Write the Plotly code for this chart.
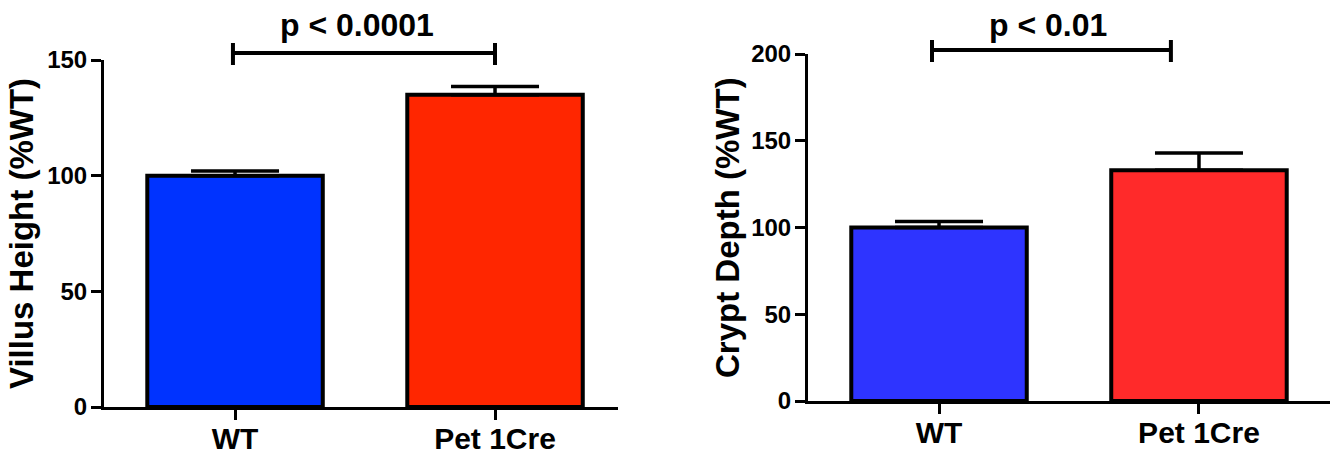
import plotly.graph_objects as go

# Data
categories = ["WT", "Pet 1Cre"]

villus_mean = [100, 135]
villus_sem = [2, 3.5]

crypt_mean = [100, 133]
crypt_sem = [3.5, 10]

villus_colors = ["#0033FF", "#FF2600"]
crypt_colors = ["#2E34FF", "#FF2A2A"]

villus_ticks = [0, 50, 100, 150]
crypt_ticks = [0, 50, 100, 150, 200]

villus_label = "p < 0.0001"
crypt_label = "p < 0.01"

FONT = "Liberation Sans, Arial, sans-serif"
W, H = 1330, 455

fig = go.Figure()


def add_panel(means, sems, colors, xa, ya):
    fig.add_trace(go.Bar(
        x=categories, y=means,
        marker=dict(color=colors, line=dict(color="black", width=4)),
        width=0.675,
        error_y=dict(type="data", symmetric=False, array=sems,
                     arrayminus=[0] * len(sems),
                     color="black", thickness=3.5, width=44),
        xaxis=xa, yaxis=ya, showlegend=False,
    ))


add_panel(villus_mean, villus_sem, villus_colors, "x", "y")
add_panel(crypt_mean, crypt_sem, crypt_colors, "x2", "y2")

xcommon = dict(
    type="category", showline=True, linecolor="black", linewidth=3,
    ticks="outside", ticklen=10, tickwidth=3, tickcolor="black",
    showgrid=False, zeroline=False, ticklabelstandoff=-7,
    tickfont=dict(family=FONT, size=30, color="black", weight="bold"),
)
ycommon = dict(
    showline=True, linecolor="black", linewidth=3,
    ticks="outside", ticklen=10, tickwidth=3, tickcolor="black",
    showgrid=False, zeroline=False, ticklabelstandoff=-1,
    tickfont=dict(family=FONT, size=24, color="black", weight="bold"),
)

fig.update_layout(
    width=W, height=H,
    margin=dict(l=0, r=0, t=0, b=0, autoexpand=False),
    paper_bgcolor="white", plot_bgcolor="white",
    xaxis=dict(xcommon, domain=[104 / W, 618 / W], range=[-0.504, 1.473],
               anchor="y", automargin=False),
    yaxis=dict(ycommon, domain=[(H - 407) / H, (H - 60) / H], range=[0, 150],
               tickvals=villus_ticks, anchor="x", automargin=False),
    xaxis2=dict(xcommon, domain=[808 / W, 1.0], range=[-0.504, 1.504],
                anchor="y2", automargin=False),
    yaxis2=dict(ycommon, domain=[(H - 401) / H, (H - 54) / H], range=[0, 200],
                tickvals=crypt_ticks, anchor="x2", automargin=False),
)


def bracket(xref, x0, x1, y_px, cap_top_px, cap_bot_px, label, label_x):
    """Significance bracket: x in data units, vertical positions in pixels from top."""
    line = dict(color="black", width=4)
    py = lambda p: (H - p) / H
    fig.add_shape(type="line", xref=xref, yref="paper", x0=x0, x1=x1,
                  y0=py(y_px), y1=py(y_px), line=line)
    for xx in (x0, x1):
        fig.add_shape(type="line", xref=xref, yref="paper", x0=xx, x1=xx,
                      y0=py(cap_bot_px), y1=py(cap_top_px), line=line)
    fig.add_annotation(xref=xref, yref="paper", x=label_x, y=py(25),
                       text=label, showarrow=False, yanchor="middle", xanchor="center",
                       font=dict(family=FONT, size=32, color="black", weight="bold"))


bracket("x", -0.008, 1.0, 53, 43, 65, villus_label, 0.47)
bracket("x2", -0.027, 0.892, 50, 40, 62, crypt_label, 0.42)

# Rotated axis titles
fig.add_annotation(xref="paper", yref="paper", x=22 / W, y=(H - 234) / H,
                   xanchor="center", yanchor="middle",
                   text="Villus Height (%WT)", textangle=-90, showarrow=False,
                   font=dict(family=FONT, size=33, color="black", weight="bold"))
fig.add_annotation(xref="paper", yref="paper", x=727 / W, y=(H - 228) / H,
                   xanchor="center", yanchor="middle",
                   text="Crypt Depth (%WT)", textangle=-90, showarrow=False,
                   font=dict(family=FONT, size=33, color="black", weight="bold"))

fig.write_html("out.html")
